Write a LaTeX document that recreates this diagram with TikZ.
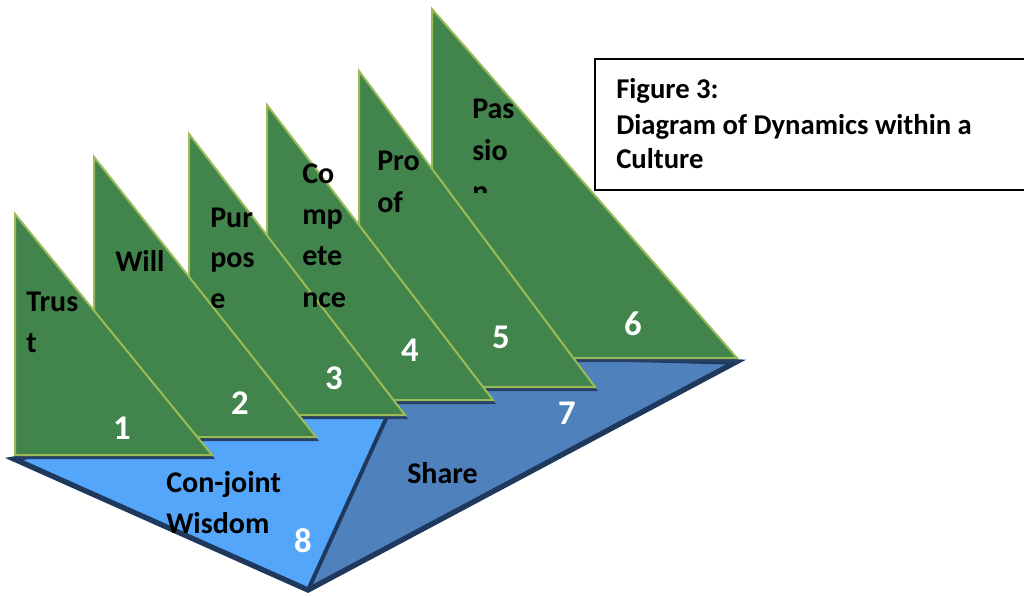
\documentclass[tikz,border=0pt]{standalone}
\usepackage{fontspec}
\setmainfont{Carlito}
\definecolor{leaf}{RGB}{65,133,76}
\definecolor{leafedge}{RGB}{155,187,89}
\definecolor{lightb}{RGB}{84,166,250}
\definecolor{darkb}{RGB}{79,129,189}
\definecolor{navy}{RGB}{31,56,93}
\definecolor{shade}{RGB}{38,64,102}
\tikzset{
  sail/.style={fill=leaf, draw=leafedge, line width=1.5pt, line join=miter},
  sailshadow/.style={fill=shade},
  lbl/.style={anchor=base west, inner sep=0pt, font=\bfseries\fontsize{22.5}{26}\selectfont},
  boxlbl/.style={anchor=base west, inner sep=0pt, font=\bfseries\fontsize{21.5}{26}\selectfont},
  num/.style={inner sep=0pt, text=white, font=\bfseries\fontsize{26}{30}\selectfont},
}
\begin{document}
\begin{tikzpicture}[x=0.75pt, y=-0.75pt]
\useasboundingbox (0,0) rectangle (1024,596);
\clip (0,0) rectangle (1024,596);
% base coordinates
\coordinate (L) at (14,459);
\coordinate (B) at (308,590);
\coordinate (R) at (736,362);
\coordinate (Q) at (580,358);
\coordinate (D) at (399,390);
% base
\fill[lightb] (L) -- (B) -- (D) -- cycle;
\fill[darkb] (D) -- (B) -- (R) -- (Q) -- cycle;
\draw[navy, line width=3pt, line join=round] (B) -- (D);
\draw[navy, line width=4pt, line join=miter] (L) -- (B) -- (R) -- (Q) -- (D) -- cycle;
% sails, back to front
\foreach \tx/\ty/\by/\rx [count=\i] in {432/9/358/737, 359/71/387/595, 267/105/400/493, 189/134/415/405, 94/157/437/316, 15/214/455/212}{
  \fill[sailshadow] (\tx+2,\ty+4) -- (\tx+2,\by+4) -- (\rx+3,\by+4) -- cycle;
  \draw[sail] (\tx,\ty) -- (\tx,\by) -- (\rx,\by) -- cycle;
}
% labels
\node[lbl] (trust1) at (26,311) {Trus};
\node[lbl] (trust2) at (26,352) {t};
\node[lbl] (will) at (115,271) {Will};
\node[lbl] (purp1) at (210,227) {Pur};
\node[lbl] (purp2) at (210,267) {pos};
\begin{scope}
\clip (200,280) rectangle (260,307);
\node[lbl] (purp3) at (210,308) {e};
\end{scope}
\node[lbl] (comp1) at (302,183) {Co};
\node[lbl] (comp2) at (302,224) {mp};
\node[lbl] (comp3) at (302,265) {ete};
\node[lbl] (comp4) at (302,307) {nce};
\node[lbl] (proof1) at (377,170) {Pro};
\node[lbl] (proof2) at (377,212) {of};
\node[lbl] (pass1) at (472,118) {Pas};
\node[lbl] (pass2) at (472,160) {sio};
\begin{scope}
\clip (460,170) rectangle (530,192.5);
\node[lbl] (pass3) at (472,201) {n};
\end{scope}
\node[lbl] (cj1) at (166,492) {Con-joint};
\node[lbl] (cj2) at (166,533) {Wisdom};
\node[lbl] (share) at (407,483) {Share};
% numbers
\node[num] (n1) at (122,428) {1};
\node[num] (n2) at (240,403) {2};
\node[num] (n3) at (334,378) {3};
\node[num] (n4) at (410,350) {4};
\node[num] (n5) at (501,337) {5};
\node[num] (n6) at (633,324) {6};
\node[num] (n7) at (567,413) {7};
\node[num] (n8) at (303,541) {8};
% figure caption box
\draw[black, line width=0.9pt] (1040,59) -- (595,59) -- (595,190) -- (1040,190);
\node[boxlbl] (cap1) at (616,98) {Figure 3:};
\node[boxlbl] (cap2) at (616,134) {Diagram of Dynamics within a};
\node[boxlbl] (cap3) at (616,168) {Culture};
\end{tikzpicture}
\end{document}
